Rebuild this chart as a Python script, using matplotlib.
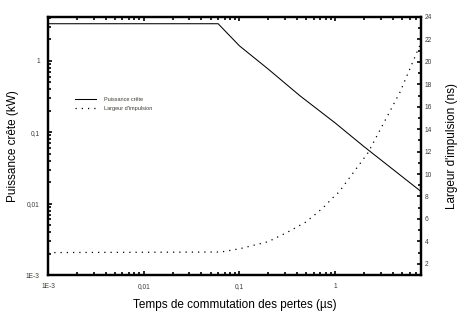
import matplotlib
matplotlib.use("Agg")
import matplotlib.pyplot as plt
from matplotlib.ticker import FixedLocator, FixedFormatter, LogLocator, NullFormatter, MultipleLocator

plt.rcParams['font.family'] = ['Liberation Sans', 'DejaVu Sans']

# Peak power (kW) versus switching time (µs)
t_power = [0.001, 0.06, 0.1, 0.2, 0.43, 1.0, 2.0, 7.8]
peak_power = [3.3, 3.3, 1.62, 0.765, 0.323, 0.135, 0.063, 0.015]

# Pulse width (ns) versus switching time (µs)
t_width = [0.001, 0.064, 0.102, 0.139, 0.20, 0.315, 0.49, 0.62, 0.75, 0.95, 1.10, 2.21, 4.77, 7.8]
pulse_width = [3.0, 3.05, 3.35, 3.64, 3.97, 4.8, 5.7, 6.4, 7.0, 7.9, 8.4, 11.9, 17.3, 21.6]

x_ticks = [0.001, 0.01, 0.1, 1]
x_tick_labels = ["1E-3", "0,01", "0,1", "1"]
y_ticks = [0.001, 0.01, 0.1, 1]
y_tick_labels = ["1E-3", "0,01", "0,1", "1"]

label_color = "#3c3c30"
tick_fs = 4.8

fig = plt.figure(figsize=(4.68, 3.25), dpi=100)
ax = fig.add_axes([0.1026, 0.1538, 0.798, 0.7939])
ax2 = ax.twinx()

l1, = ax.plot(t_power, peak_power, color="black", lw=0.75, label="Puissance crête")
l2, = ax2.plot(t_width, pulse_width, color="black", lw=0.9, linestyle=(0, (1, 4)),
               label="Largeur d'impulsion")

ax.set_xscale("log")
ax.set_yscale("log")
ax.set_xlim(0.001, 8)
ax.set_ylim(0.001, 4.1)
ax2.set_ylim(1, 24)

ax.xaxis.set_major_locator(FixedLocator(x_ticks))
ax.xaxis.set_major_formatter(FixedFormatter(x_tick_labels))
ax.xaxis.set_minor_locator(LogLocator(base=10, subs=range(2, 10)))
ax.xaxis.set_minor_formatter(NullFormatter())
ax.yaxis.set_major_locator(FixedLocator(y_ticks))
ax.yaxis.set_major_formatter(FixedFormatter(y_tick_labels))
ax.yaxis.set_minor_locator(LogLocator(base=10, subs=range(2, 10)))
ax.yaxis.set_minor_formatter(NullFormatter())

ax2.yaxis.set_major_locator(MultipleLocator(2))
ax2.yaxis.set_minor_locator(MultipleLocator(1))
ax2.set_yticks(range(2, 25, 2))

for a in (ax, ax2):
    for s in a.spines.values():
        s.set_linewidth(1.6)

ax.tick_params(axis="both", which="both", direction="in", top=True, right=False,
               width=1.2, labelsize=tick_fs, labelcolor=label_color)
ax.tick_params(axis="both", which="major", length=3.2)
ax.tick_params(axis="both", which="minor", length=2.2)
ax.tick_params(axis="y", which="major", pad=6)
ax.tick_params(axis="x", which="major", pad=6)
ax2.tick_params(axis="y", which="both", direction="in", width=1.2,
                labelsize=tick_fs, labelcolor=label_color, pad=2.5)
ax2.tick_params(axis="y", which="major", length=3.2)
ax2.tick_params(axis="y", which="minor", length=2.2)

ax.set_xlabel("Temps de commutation des pertes (µs)", fontsize=8.5, labelpad=6)
ax.set_ylabel("Puissance crête (kW)", fontsize=8.5, labelpad=5)
ax2.set_ylabel("Largeur d'impulsion (ns)", fontsize=8.5, labelpad=10)

leg = ax.legend(handles=[l1, l2], loc="upper left", bbox_to_anchor=(0.072, 0.69),
                frameon=False, fontsize=4.0, handlelength=3.8, handletextpad=1.4,
                labelspacing=0.8, borderpad=0, borderaxespad=0)
for txt in leg.get_texts():
    txt.set_color(label_color)

fig.savefig("out.png", dpi=100)
